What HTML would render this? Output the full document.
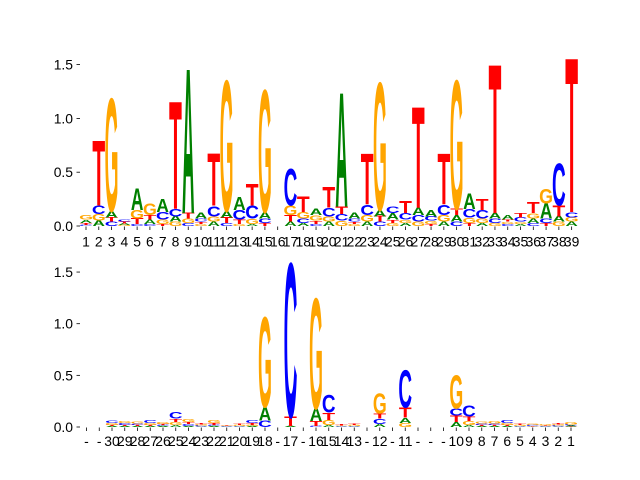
<!DOCTYPE html>
<html><head><meta charset="utf-8"><style>
html,body{margin:0;padding:0;background:#fff;}
svg{display:block;font-family:"Liberation Sans",sans-serif;}
</style></head><body>
<svg id="chart" width="640" height="480" viewBox="0 0 640 480" xmlns="http://www.w3.org/2000/svg">
<g id="top"></g>
<g id="bot"></g>
</svg>
<script>
const topLabels = Array.from({length:39},(_, i)=>String(i+1));
const topA = [.03,.05,.06,.015,.2,.04,.12,.05,1.33,.05,.04,.06,.12,.02,.06,0,.04,.03,.06,.04,1.05,.05,.04,.06,.06,.03,.07,.06,.04,.06,.14,.03,.05,.04,.02,.04,.14,.05,.04];
const topC = [.01,.08,.04,.02,.02,.02,.07,.07,.03,.03,.1,.03,.09,.12,.04,0,.35,.04,.02,.08,.06,.03,.1,.04,.06,.06,.06,.04,.1,.04,.08,.08,.04,.02,.04,.03,.04,.4,.05];
const topG = [.04,.06,1.07,.01,.08,.11,.04,.04,.04,.02,.05,1.24,.02,.05,1.16,0,.09,.06,.05,.05,.05,.02,.06,1.21,.03,.03,.04,.03,.06,1.22,.05,.04,.03,.02,.02,.05,.14,.04,.04];
const topT = [.02,.6,.04,.015,.05,.04,.02,.99,.05,.02,.48,.05,.04,.2,.03,0,.06,.14,.03,.19,.07,.02,.47,.05,.03,.11,.93,.02,.47,.06,.03,.1,1.37,.02,.04,.1,.03,.1,1.42];

const botLabels = ["-","-","30","29","28","27","26","25","24","23","22","21","20","19","18","-","17","-","16","15","14","13","-","12","-","11","-","-","-","10","9","8","7","6","5","4","3","2","1"];
const botA = [0,0,.01,.01,.01,.01,.01,.02,.01,.005,.01,.005,.005,.01,.13,0,.01,0,.12,.02,.005,.005,0,.03,0,.05,0,0,0,.05,.02,.01,.01,.01,.005,.005,.005,.005,.01];
const botC = [0,0,.025,.02,.015,.03,.01,.06,.02,.01,.01,.005,.005,.03,.065,0,1.52,0,.01,.17,.005,.005,0,.05,0,.37,0,0,0,.07,.11,.015,.015,.03,.005,.01,.005,.01,.01];
const botG = [0,0,.02,.02,.02,.02,.02,.03,.03,.01,.03,.005,.01,.01,.89,0,0,0,1.09,.05,.005,.01,0,.2,0,.04,0,0,0,.33,.04,.02,.025,.02,.01,.01,.01,.01,.025];
const botT = [0,0,.01,.01,.01,.01,.01,.03,.02,.01,.02,.005,.01,.02,0,0,.09,0,.05,.07,.01,.01,0,.05,0,.1,0,0,0,.06,.04,.01,.01,.01,.01,.005,.005,.01,.005];

const yTicks = [0, 0.5, 1.0, 1.5];
const NS = "http://www.w3.org/2000/svg";
const COLORS = {A:"#008000", C:"#0000ff", G:"#ffa500", T:"#ff0000"};
const INKW = {A:70, C:64, G:68, T:58};
const CAPH = {A:68.8, C:71, G:71, T:68.8};

function mk(tag, attrs, parent){
  const e = document.createElementNS(NS, tag);
  for (const k in attrs) e.setAttribute(k, attrs[k]);
  parent.appendChild(e);
  return e;
}

function drawPanel(g, labels, A, C, G, T, y0, pxPerUnit, x0, dx, labelY){
  const xs = i => x0 + dx * i;
  const ys = v => y0 - v * pxPerUnit;
  const w = dx * 0.95;
  yTicks.forEach(t => {
    const ln = mk("line", {x1:76.5, x2:80, y1:ys(t), y2:ys(t), stroke:"#000", "stroke-width":0.8}, g);
    
    
    const tx = mk("text", {x:73, y:ys(t)+5, "text-anchor":"end", "font-size":13.9, fill:"#000"}, g);
    
    
    tx.textContent = t.toFixed(1);
  });
  labels.forEach((lab, i) => {
    const tk = mk("line", {x1:xs(i), x2:xs(i), y1:y0+0.5, y2:y0+4, stroke:"#000", "stroke-width":0.8}, g);
    
    
    const tx = mk("text", {x:xs(i), y:labelY, "text-anchor":"middle", "font-size":13.9, fill:"#000"}, g);
    
    
    tx.textContent = lab;
    const items = [["A",A[i]],["C",C[i]],["G",G[i]],["T",T[i]]].filter(d=>d[1]>0).sort((a,b)=>a[1]-b[1]);
    let acc = 0;
    items.forEach(([L, v]) => {
      const yb = ys(acc);
      const hpx = v * pxPerUnit;
      acc += v;
      const t = mk("text", {
        x:0, y:0, "text-anchor":"middle", "font-size":100, "font-weight":"bold", fill:COLORS[L],
        transform:`translate(${xs(i).toFixed(2)},${yb.toFixed(2)}) scale(${(w/INKW[L]).toFixed(4)},${(hpx/CAPH[L]).toFixed(4)})`
      }, g);
      
      
      t.textContent = L;
    });
  });
}

drawPanel(document.getElementById("top"), topLabels, topA, topC, topG, topT, 226, 107.6, 86, 12.78, 246.5);
drawPanel(document.getElementById("bot"), botLabels, botA, botC, botG, botT, 427, 103.3, 86.5, 12.75, 446);
</script>
</body></html>
